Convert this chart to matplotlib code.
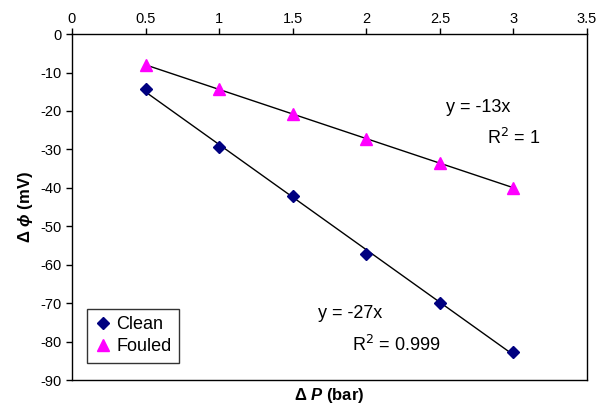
import matplotlib.pyplot as plt
import numpy as np

plt.rcParams['font.family'] = ['Liberation Sans', 'DejaVu Sans']
plt.rcParams['axes.unicode_minus'] = False
plt.rcParams['mathtext.fontset'] = 'custom'
plt.rcParams['mathtext.rm'] = 'Liberation Sans:bold'
plt.rcParams['mathtext.it'] = 'Liberation Sans:bold:italic'
plt.rcParams['mathtext.bf'] = 'Liberation Sans:bold'

dP = [0.5, 1.0, 1.5, 2.0, 2.5, 3.0]
clean = [-14.4, -29.3, -42.1, -57.1, -69.9, -82.8]
fouled = [-8.1, -14.4, -20.7, -27.2, -33.5, -40.1]

x = np.array(dP)

fig = plt.figure(figsize=(6.01, 4.07), dpi=100)
ax = fig.add_axes([0.1198, 0.0663, 0.857, 0.850])

# linear trend lines over the data range
for y in (clean, fouled):
    k, b = np.polyfit(x, np.array(y), 1)
    ax.plot([x.min(), x.max()], [k * x.min() + b, k * x.max() + b], color='black', lw=1, zorder=2)

ax.plot(dP, clean, linestyle='none', marker='D', color='#000080', ms=6.5, label='Clean', zorder=3)
ax.plot(dP, fouled, linestyle='none', marker='^', color='#FF00FF', ms=9, label='Fouled', zorder=3)

ax.set_xlim(0, 3.5)
ax.set_ylim(-90, 0)
ax.set_xticks(np.arange(0, 3.51, 0.5))
ax.set_xticklabels(['0', '0.5', '1', '1.5', '2', '2.5', '3', '3.5'])
ax.set_yticks(np.arange(-90, 1, 10))
ax.xaxis.tick_top()
ax.tick_params(axis='both', labelsize=10.5, direction='out', length=4, width=1, colors='black')
ax.tick_params(axis='x', pad=2)
for s in ax.spines.values():
    s.set_linewidth(1)

ax.set_ylabel(r'$\Delta$ $\phi$ (mV)', fontsize=12, fontweight='bold', labelpad=4)
ax.text(0.5, -0.046, r'$\Delta$ $\it{P}$ (bar)', transform=ax.transAxes, ha='center', va='center',
        fontsize=12, fontweight='bold')

ax.text(2.76, -19.0, 'y = -13x', ha='center', va='center', fontsize=13)
ax.text(3.00, -27.1, r'R$^2$ = 1', ha='center', va='center', fontsize=13,
        math_fontfamily='dejavusans')
ax.text(1.89, -72.6, 'y = -27x', ha='center', va='center', fontsize=13)
ax.text(2.20, -80.9, r'R$^2$ = 0.999', ha='center', va='center', fontsize=13,
        math_fontfamily='dejavusans')

leg = ax.legend(loc='lower left', bbox_to_anchor=(0.029, 0.049), borderaxespad=0, fontsize=13,
                frameon=True, fancybox=False, edgecolor='black', handlelength=0.9,
                handletextpad=0.3, borderpad=0.42, labelspacing=0.28)
leg.get_frame().set_linewidth(1)

fig.savefig('out.png', dpi=100)
